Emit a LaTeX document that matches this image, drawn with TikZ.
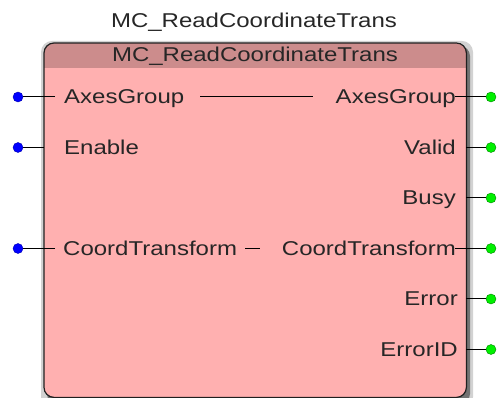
\documentclass[tikz,border=0pt]{standalone}
\usepackage{fontspec}
\setmainfont{Liberation Sans}[FakeStretch=1.2]
\usetikzlibrary{positioning}
\definecolor{FBody}{HTML}{FFB0B0}
\definecolor{FHead}{HTML}{CC8C8C}
\definecolor{FEdge}{HTML}{202020}
\definecolor{PinIn}{HTML}{0000FF}
\definecolor{PinOut}{HTML}{00F000}

\begin{document}
\begin{tikzpicture}[
  x=1pt,y=1pt,
  lbl/.style={font=\fontsize{20}{23}\selectfont,inner sep=0pt,text=black!85},
  pinin/.style={circle,inner sep=0pt,minimum size=10pt,fill=PinIn,draw=PinIn!70!black},
  pinout/.style={circle,inner sep=0pt,minimum size=10pt,fill=PinOut,draw=PinOut!55!black},
  w/.style={line width=1pt,color=black}
]
  \useasboundingbox (0,0) rectangle (499,398);
  % shadow
  \fill[gray!35,rounded corners=11pt] (41,-10) rectangle (473,357);
  \fill[black!55,rounded corners=10pt] (47,-6) rectangle (470,352);
  % block
  \node[fill=FBody,rounded corners=10pt,minimum width=422pt,minimum height=354pt,
    inner sep=0pt,anchor=north west] (fb) at (44,355) {};
  \begin{scope}
    \clip[rounded corners=10pt] (fb.south west) rectangle (fb.north east);
    \fill[FHead] (44,330) rectangle (466,355);
  \end{scope}
  \draw[FEdge,line width=1.2pt,rounded corners=10pt] (fb.south west) rectangle (fb.north east);
  \node[lbl] (title) at (254,376) {MC\_ReadCoordinateTrans};
  \node[lbl] (head) at (255,342) {MC\_ReadCoordinateTrans};

  % inputs
  \node[lbl,anchor=base west] (iAxes) at (64,294) {AxesGroup};
  \node[lbl,anchor=base west] (iEnable) at (64,243.5) {Enable};
  \node[lbl,anchor=base west] (iCoord) at (63,142.5) {CoordTransform};
  \foreach \n/\y/\e in {iAxes/301/55,iEnable/250.5/44,iCoord/149.5/55}
    {\node[pinin] (\n-pin) at (18,\y) {};
     \coordinate (\n-end) at (\e,\y);
     \draw[w] (\n-end) -- (\n-pin);}

  % outputs
  \node[lbl,anchor=base east] (oAxes) at (456,294) {AxesGroup};
  \node[lbl,anchor=base east] (oValid) at (456,243.5) {Valid};
  \node[lbl,anchor=base east] (oBusy) at (456,193) {Busy};
  \node[lbl,anchor=base east] (oCoord) at (456,142.5) {CoordTransform};
  \node[lbl,anchor=base east] (oError) at (458,92) {Error};
  \node[lbl,anchor=base east] (oErrorID) at (458,41.5) {ErrorID};
  \foreach \n/\y/\e in {oAxes/301/455,oValid/250.5/466,oBusy/200/466,
      oCoord/149.5/455,oError/99/466,oErrorID/48.5/466}
    {\node[pinout] (\n-pin) at (491,\y) {};
     \coordinate (\n-end) at (\e,\y);
     \draw[w] (\n-end) -- (\n-pin);}

  % in-out links
  \coordinate (axL) at (200,301);
  \coordinate (axR) at (313,301);
  \coordinate (crL) at (245,149.5);
  \coordinate (crR) at (260,149.5);
  \draw[w] (axL) -- (axR);
  \draw[w] (crL) -- (crR);
\end{tikzpicture}
\end{document}
